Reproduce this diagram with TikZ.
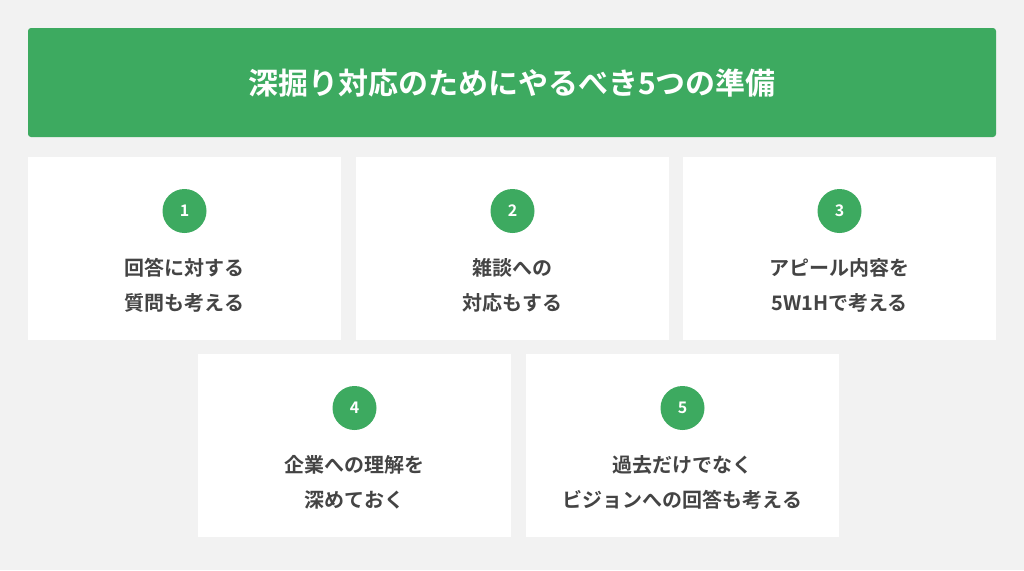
\documentclass[tikz,border=0pt]{standalone}
\usepackage{fontspec}
\newfontfamily\cjk{Noto Sans CJK JP Bold}
\definecolor{bg}{HTML}{F2F2F2}
\definecolor{grn}{HTML}{3DAA60}
\definecolor{txt}{HTML}{444444}
\begin{document}
\begin{tikzpicture}[x=1pt,y=-1pt,
  card/.style={fill=white,draw=none},
  num/.style={circle,fill=grn,minimum size=44pt,inner sep=0pt,text=white,font=\cjk\fontsize{16}{16}\selectfont},
  lab/.style={text=txt,font=\cjk\fontsize{20}{35}\selectfont,align=center}]
\fill[bg] (0,0) rectangle (1024,570);
\useasboundingbox (0,0) rectangle (1024,570);
\fill[grn,rounded corners=3pt] (28,28) rectangle (996,137);
\node[text=white,font=\cjk\fontsize{30}{30}\selectfont] (title) at (512,83) {深掘り対応のためにやるべき5つの準備};
\foreach \x/\y/\n/\t in {28/157/1/{回答に対する\\質問も考える},356/157/2/{雑談への\\対応もする},683/157/3/{アピール内容を\\5W1Hで考える},198/354/4/{企業への理解を\\深めておく},526/354/5/{過去だけでなく\\ビジョンへの回答も考える}}{
  \fill[card] (\x,\y) rectangle ++(313,183);
  \node[num] (n\n) at (\x+156.5,\y+54) {\n};
  \node[lab] (t\n) at (\x+156.5,\y+128) {\t};
}
\end{tikzpicture}
\end{document}
